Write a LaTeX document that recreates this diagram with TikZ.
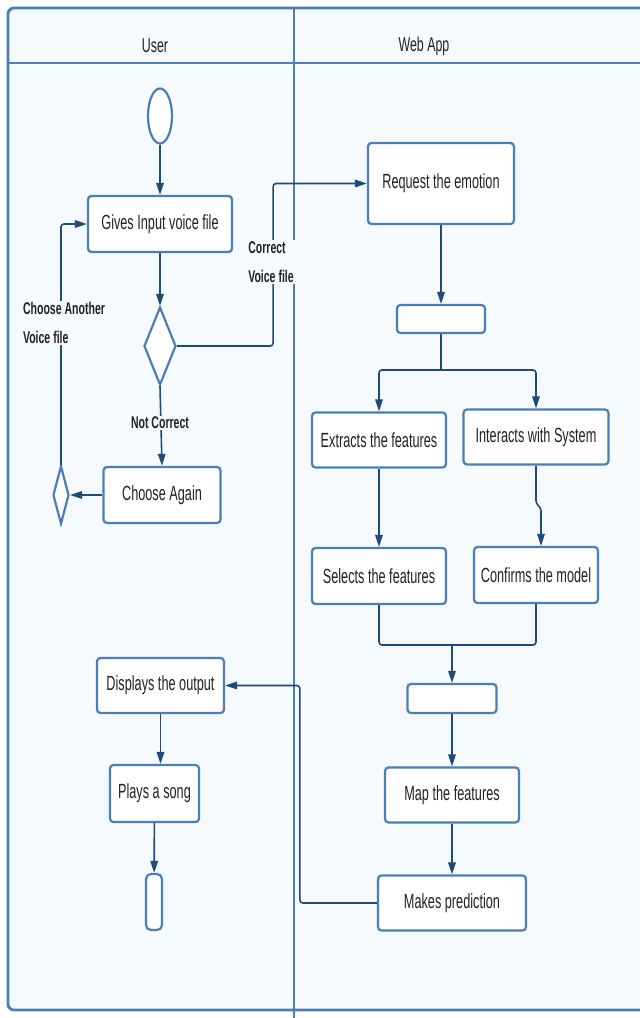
\documentclass[tikz,border=0pt]{standalone}
\usepackage{fontspec}
\setmainfont{Liberation Sans}[FakeStretch=0.62]
\usetikzlibrary{arrows.meta,shapes.geometric}
\definecolor{bg}{HTML}{F5FAFF}
\definecolor{frame}{HTML}{4A7FB5}
\definecolor{boxc}{HTML}{4A7FB5}
\definecolor{arrc}{HTML}{1F4B78}
\definecolor{txt}{HTML}{222222}
\tikzset{
  box/.style={draw=boxc, line width=2.2pt, rounded corners=3.5pt, fill=white, inner sep=0pt, font=\fontsize{20.5}{24}\selectfont, text=txt},
  conn/.style={draw=arrc, line width=1.6pt, rounded corners=3pt},
  arr/.style={conn, -{Triangle[length=12pt,width=7.5pt]}},
  lbl/.style={fill=bg, inner sep=1pt, font=\bfseries\fontsize{17}{29}\selectfont, text=txt, align=left},
  hdr/.style={font=\fontsize{20}{24}\selectfont, text=txt}
}
\begin{document}
\begin{tikzpicture}[x=1pt,y=-1pt]
\useasboundingbox (0,0) rectangle (640,1018);
\fill[bg] (8,8) rectangle (640,1010);
% frame
\draw[frame, line width=2.8pt, rounded corners=6pt] (640,8) -- (8,8) -- (8,1010) -- (640,1010);
\draw[frame, line width=2.8pt] (8,63) -- (640,63);
\draw[frame, line width=1.6pt] (294,8) -- (294,1018);
\node[hdr] (hUser) at (155,46) {User};
\node[hdr] (hWeb) at (424,46) {Web App};
% nodes
\node[ellipse, draw=boxc, line width=2.2pt, fill=white, minimum width=24pt, minimum height=55pt, inner sep=0pt] (start) at (160,116) {};
\node[box, minimum width=144pt, minimum height=56pt] (gives) at (160,224) {Gives Input voice file};
\node[diamond, draw=boxc, line width=2.2pt, fill=white, minimum width=32pt, minimum height=78pt, inner sep=0pt] (dec) at (160,346) {};
\node[box, minimum width=117pt, minimum height=56pt] (choose) at (162,495) {Choose Again};
\node[diamond, draw=boxc, line width=2.2pt, fill=white, minimum width=16pt, minimum height=58pt, inner sep=0pt] (sdia) at (61,495) {};
\node[box, minimum width=146pt, minimum height=81pt] (req) at (441,183.5) {Request the emotion};
\node[box, minimum width=88pt, minimum height=28pt] (bar1) at (441,319) {};
\node[box, minimum width=134pt, minimum height=55pt] (extract) at (379,440) {Extracts the features};
\node[box, minimum width=145pt, minimum height=55pt] (interact) at (536,437) {Interacts with System};
\node[box, minimum width=134pt, minimum height=56pt] (select) at (379,576) {Selects the features};
\node[box, minimum width=124pt, minimum height=56pt] (confirm) at (536,575) {Confirms the model};
\node[box, minimum width=89pt, minimum height=29pt] (bar2) at (452,698.5) {};
\node[box, minimum width=134pt, minimum height=55pt] (map) at (452,795) {Map the features};
\node[box, minimum width=148pt, minimum height=55pt] (pred) at (452,903) {Makes prediction};
\node[box, minimum width=127pt, minimum height=55pt] (disp) at (160.5,685.5) {Displays the output};
\node[box, minimum width=89pt, minimum height=57pt] (play) at (154.5,793.5) {Plays a song};
\node[draw=boxc, line width=2.2pt, fill=white, rounded corners=5pt, minimum width=16pt, minimum height=56pt, inner sep=0pt] (end) at (154,902) {};
% connectors
\draw[arr] (start) -- (gives);
\draw[arr] (gives) -- (dec);
\draw[arr] (dec.east) -- ++(96,0) |- (req.west);
\node[lbl] (lcorrect) at (271,262) {Correct\\Voice file};
\draw[arr] (dec.south) -- (choose.north);
\node[lbl] (lnot) at (160,423) {Not Correct};
\draw[arr] (choose.west) -- (sdia.east);
\draw[arr] (sdia.north) |- (gives.west);
\node[lbl] (lanother) at (64,323) {Choose Another\\Voice file};
\draw[arr] (req.south) -- (bar1.north);
\coordinate (split) at (441,370);
\draw[conn] (bar1.south) -- (split);
\draw[arr] (split) -| (extract.north);
\draw[arr] (split) -| (interact.north);
\draw[arr] (extract) -- (select);
\coordinate (jog) at (541,508);
\draw[arr] (interact.south) -- ++(0,38) -- (jog) -- (jog |- confirm.north);
\coordinate (join) at (452,645);
\draw[conn] (select.south) |- (join);
\draw[conn] (confirm.south) |- (join);
\draw[arr] (join) -- (bar2.north);
\draw[arr] (bar2) -- (map);
\draw[arr] (map) -- (pred);
\draw[arr] (pred.west) -- ++(-77,0) |- (disp.east);
\draw[arr] (disp.south) -- (disp.south |- play.north);
\draw[arr] (play) -- (end);
\end{tikzpicture}
\end{document}
